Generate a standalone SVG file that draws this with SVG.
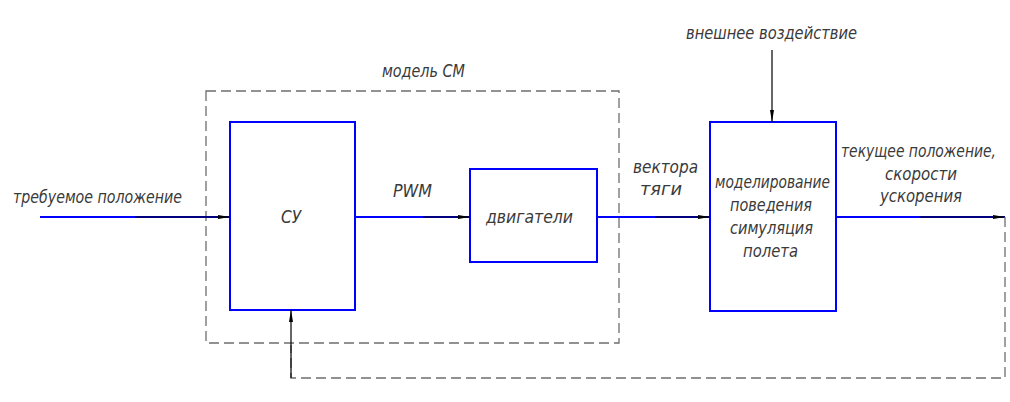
<svg xmlns="http://www.w3.org/2000/svg" width="1010" height="402" viewBox="0 0 1010 402">
  <style>
    .blk { fill: none; stroke: #0000ff; stroke-width: 2; }
    .sig { fill: none; stroke: #0000ff; stroke-width: 2; }
    .lead { fill: none; stroke: #000; stroke-width: 1.2; }
    .dash { fill: none; stroke: #6e6e6e; stroke-width: 1.3; stroke-dasharray: 10 5; }
    .lbl { font-family: "DejaVu Sans Condensed", "DejaVu Sans", "Liberation Sans", sans-serif; font-style: italic; font-weight: 300; font-size: 17px; fill: #3a3a3a; }
    .mid { text-anchor: middle; }
  </style>
  <defs>
    <marker id="arr" viewBox="0 0 12 4" refX="12" refY="2" markerWidth="12" markerHeight="4" markerUnits="userSpaceOnUse" orient="auto">
      <path d="M0,0 L12,2 L0,4 Z" fill="#000"/>
    </marker>
  </defs>

  <!-- boundary of the control-system model -->
  <g id="model-frame">
    <rect class="dash" x="206" y="91" width="413" height="252"/>
    <text class="lbl" x="382" y="77" textLength="83" lengthAdjust="spacingAndGlyphs">модель СМ</text>
  </g>

  <g id="node-su">
    <rect class="blk" x="230" y="122" width="125" height="188"/>
    <text class="lbl mid" x="291" y="223">СУ</text>
  </g>

  <g id="node-motors">
    <rect class="blk" x="470" y="169" width="127" height="93"/>
    <text class="lbl" x="486" y="223" textLength="87" lengthAdjust="spacingAndGlyphs">двигатели</text>
  </g>

  <g id="node-sim">
    <rect class="blk" x="710" y="122" width="126" height="189"/>
    <text class="lbl" x="715" y="188" textLength="115" lengthAdjust="spacingAndGlyphs">моделирование</text>
    <text class="lbl" x="730" y="211" textLength="82" lengthAdjust="spacingAndGlyphs">поведения</text>
    <text class="lbl" x="730" y="234" textLength="83" lengthAdjust="spacingAndGlyphs">симуляция</text>
    <text class="lbl" x="743" y="257" textLength="55" lengthAdjust="spacingAndGlyphs">полета</text>
  </g>

  <g id="connectors">
    <!-- input: required position -->
    <line class="sig" x1="40" y1="217" x2="230" y2="217"/>
    <line class="lead" x1="135" y1="217" x2="230" y2="217" marker-end="url(#arr)"/>
    <!-- PWM -->
    <line class="sig" x1="355" y1="217" x2="470" y2="217"/>
    <line class="lead" x1="423" y1="217" x2="470" y2="217" marker-end="url(#arr)"/>
    <!-- thrust vectors -->
    <line class="sig" x1="597" y1="217" x2="710" y2="217"/>
    <line class="lead" x1="655" y1="217" x2="710" y2="217" marker-end="url(#arr)"/>
    <!-- output state -->
    <line class="sig" x1="836" y1="217" x2="1005" y2="217"/>
    <line class="lead" x1="920" y1="217" x2="1005" y2="217" marker-end="url(#arr)"/>
    <!-- external disturbance -->
    <line class="lead" x1="772" y1="50" x2="772" y2="122" marker-end="url(#arr)"/>
    <!-- feedback loop -->
    <polyline class="dash" points="1005,217 1005,378 291,378 291,345"/>
    <line class="lead" x1="291" y1="378" x2="291" y2="310" marker-end="url(#arr)"/>
  </g>

  <g id="labels">
    <text class="lbl" x="13" y="203" textLength="169" lengthAdjust="spacingAndGlyphs">требуемое положение</text>
    <text class="lbl" x="393" y="197" textLength="39" lengthAdjust="spacingAndGlyphs">PWM</text>
    <text class="lbl" x="633" y="173" textLength="65" lengthAdjust="spacingAndGlyphs">вектора</text>
    <text class="lbl" x="640" y="195" textLength="42" lengthAdjust="spacingAndGlyphs">тяги</text>
    <text class="lbl" x="686" y="39" textLength="171" lengthAdjust="spacingAndGlyphs">внешнее воздействие</text>
    <text class="lbl" x="841" y="157" textLength="155" lengthAdjust="spacingAndGlyphs">текущее положение,</text>
    <text class="lbl" x="885" y="180" textLength="72" lengthAdjust="spacingAndGlyphs">скорости</text>
    <text class="lbl" x="880" y="202" textLength="82" lengthAdjust="spacingAndGlyphs">ускорения</text>
  </g>
</svg>
